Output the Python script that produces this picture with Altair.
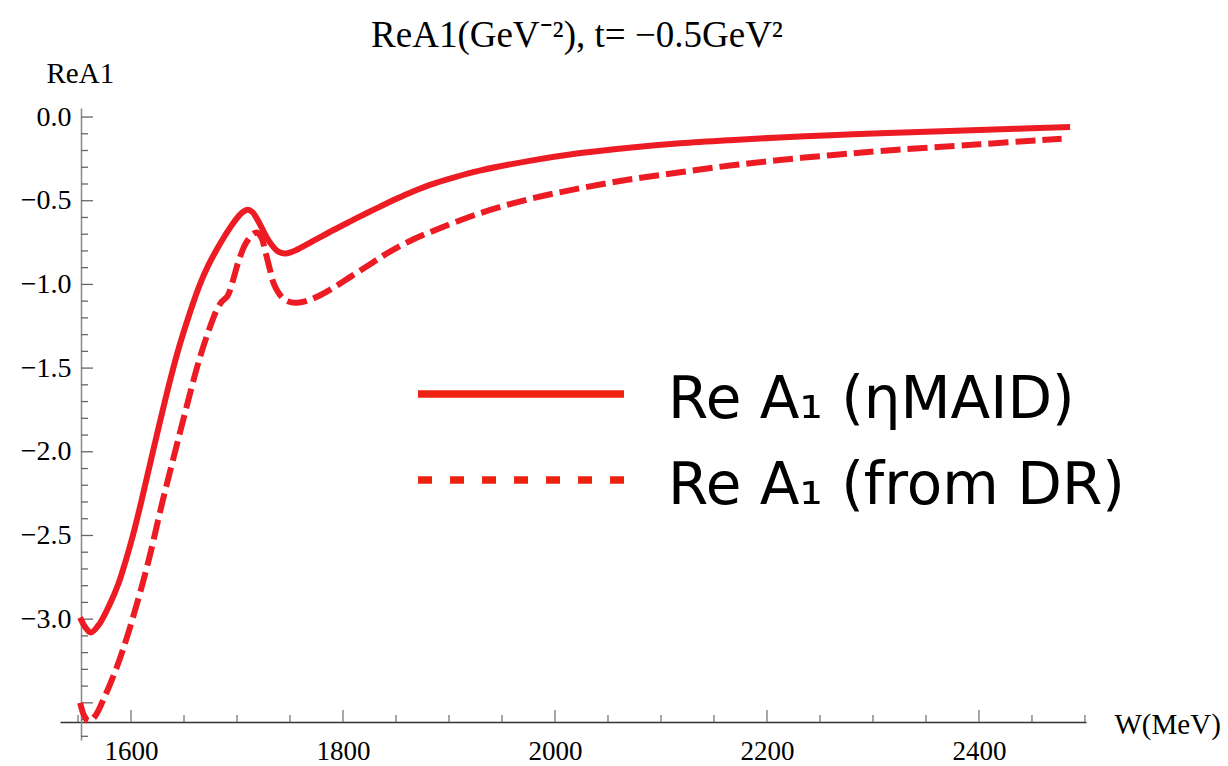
import altair as alt
import pandas as pd

# ---------------- data ----------------
SERIES = ["Re A\u2081 (\u03b7MAID)", "Re A\u2081 (from DR)"]

W_MAID = [1552, 1557, 1562, 1570, 1580, 1588, 1596, 1603, 1610, 1621, 1637, 1646,
          1656, 1665, 1673, 1681, 1689, 1696, 1703, 1709, 1714, 1719, 1724, 1730,
          1738, 1745, 1752, 1759, 1775, 1791, 1807, 1823, 1835, 1851, 1866, 1882,
          1905, 1929, 1976, 2024, 2070, 2118, 2165, 2212, 2260, 2307, 2400, 2486]
RE_MAID = [-2.99, -3.05, -3.08, -3.03, -2.91, -2.79, -2.63, -2.47, -2.29, -1.99, -1.57, -1.36,
           -1.16, -1.00, -0.885, -0.79, -0.705, -0.637, -0.582, -0.555, -0.565, -0.61, -0.67, -0.74,
           -0.80, -0.815, -0.805, -0.785, -0.73, -0.675, -0.623, -0.572, -0.535, -0.487, -0.445, -0.405,
           -0.36, -0.32, -0.262, -0.215, -0.183, -0.157, -0.138, -0.122, -0.109, -0.097, -0.077, -0.060]

W_DR = [1552, 1556, 1560, 1566, 1574, 1587, 1599, 1615, 1630, 1646, 1663, 1672,
        1681, 1686, 1691, 1696, 1701, 1707, 1712, 1716, 1719, 1723, 1727, 1731,
        1735, 1743, 1750, 1757, 1765, 1775, 1791, 1807, 1823, 1838, 1851, 1866,
        1882, 1929, 1976, 2024, 2070, 2118, 2165, 2212, 2260, 2307, 2400, 2478]
RE_DR = [-3.50, -3.58, -3.61, -3.58, -3.48, -3.28, -3.05, -2.69, -2.29, -1.89, -1.48, -1.30,
         -1.15, -1.10, -1.07, -0.98, -0.87, -0.77, -0.72, -0.695, -0.69, -0.72, -0.81, -0.91,
         -1.00, -1.08, -1.105, -1.11, -1.10, -1.075, -1.02, -0.955, -0.89, -0.828, -0.78, -0.732,
         -0.688, -0.575, -0.49, -0.425, -0.373, -0.33, -0.29, -0.257, -0.228, -0.203, -0.163, -0.13]

X_MAJOR = [1600, 1800, 2000, 2200, 2400]
X_MINOR = [1550, 1650, 1700, 1750, 1850, 1900, 1950, 2050, 2100, 2150,
           2250, 2300, 2350, 2450, 2500]
Y_LABELS = [0.0, -0.5, -1.0, -1.5, -2.0, -2.5, -3.0]
Y_MAJOR = Y_LABELS + [-3.5]
Y_MINOR = [round(-0.1 * i, 1) for i in range(38) if i % 5 != 0]

TITLE = "ReA1(GeV\u207b\u00b2), t= \u22120.5GeV\u00b2"
X_TITLE = "W(MeV)"
Y_TITLE = "ReA1"

# ---------------- styling ----------------
RED = "#ED1C24"
LEG_RED = "#EF2211"
SERIF = "Liberation Serif"
SANS = "DejaVu Sans"

XSCALE = alt.Scale(domain=[1533, 2501], nice=False, zero=False)
YSCALE = alt.Scale(domain=[-3.722, 0.054], nice=False, zero=False)

XAXIS = alt.Axis(values=X_MAJOR, format="d", ticks=False, tickSize=0, grid=False,
                 offset=-18, domainColor="#333333", domainWidth=1.5,
                 labelFont=SERIF, labelFontSize=27, labelPadding=37,
                 labelBaseline="alphabetic", labelColor="black",
                 labelFlush=False, labelOverlap=False,
                 title=X_TITLE, titleX=1054, titleY=11, titleAlign="left",
                 titleBaseline="alphabetic", titleFont=SERIF, titleFontSize=29,
                 titleFontWeight="normal", titleColor="black")
YAXIS = alt.Axis(values=Y_LABELS, format=".1f", ticks=False, tickSize=0, grid=False,
                 offset=-21, domainColor="#888888", domainWidth=1.5,
                 labelFont=SERIF, labelFontSize=28, labelPadding=10, labelColor="black",
                 labelFlush=False, labelOverlap=False,
                 title=Y_TITLE, titleAngle=0, titleX=-35, titleY=-26, titleAlign="left",
                 titleBaseline="alphabetic", titleFont=SERIF, titleFontSize=29,
                 titleFontWeight="normal", titleColor="black")


def xq(field):
    return alt.X(field, type="quantitative", scale=XSCALE, axis=XAXIS)


def yq(field):
    return alt.Y(field, type="quantitative", scale=YSCALE, axis=YAXIS)


maid = pd.DataFrame({"W": W_MAID, "ReA1": RE_MAID, "series": SERIES[0]})
dr = pd.DataFrame({"W": W_DR, "ReA1": RE_DR, "series": SERIES[1]})

solid = alt.Chart(maid).mark_line(strokeWidth=6, interpolate="catmull-rom", color=RED).encode(
    x=xq("W"), y=yq("ReA1"))
dashed = alt.Chart(dr).mark_line(strokeWidth=6, interpolate="catmull-rom", color=RED,
                                 strokeDash=[20, 7]).encode(x=xq("W"), y=yq("ReA1"))

# axis ticks (Mathematica-style, pointing into the plot)
ymaj = alt.Chart(pd.DataFrame({"v": Y_MAJOR})).mark_rule(color="#666666", strokeWidth=1.3).encode(
    y=yq("v"), x=alt.value(21), x2=alt.value(33))
ymin = alt.Chart(pd.DataFrame({"v": Y_MINOR})).mark_rule(color="#666666", strokeWidth=1.3).encode(
    y=yq("v"), x=alt.value(21), x2=alt.value(28))
xmaj = alt.Chart(pd.DataFrame({"w": X_MAJOR})).mark_rule(color="#777777", strokeWidth=1.3).encode(
    x=xq("w"), y=alt.value(614), y2=alt.value(602))
xmin = alt.Chart(pd.DataFrame({"w": X_MINOR})).mark_rule(color="#777777", strokeWidth=1.3).encode(
    x=xq("w"), y=alt.value(614), y2=alt.value(607))

# title
title = alt.Chart(pd.DataFrame({"t": [TITLE]})).mark_text(
    font=SERIF, fontSize=37, align="center", baseline="alphabetic", color="black").encode(
    text="t:N", x=alt.value(517), y=alt.value(-61))

# legend (drawn inside the plot, as in the reference)
leg = pd.DataFrame({"label": SERIES})
leg_solid = alt.Chart(leg).transform_filter(alt.datum.label == SERIES[0]).mark_rule(
    color=LEG_RED, strokeWidth=7.5).encode(x=alt.value(358), x2=alt.value(564), y=alt.value(286))
leg_dash = alt.Chart(leg).transform_filter(alt.datum.label == SERIES[1]).mark_rule(
    color=LEG_RED, strokeWidth=7.5, strokeDash=[14, 18]).encode(
    x=alt.value(358), x2=alt.value(564), y=alt.value(372))
leg_t1 = alt.Chart(leg).transform_filter(alt.datum.label == SERIES[0]).mark_text(
    font=SANS, fontSize=58, align="left", baseline="alphabetic", color="black").encode(
    text="label:N", x=alt.value(608), y=alt.value(310))
leg_t2 = alt.Chart(leg).transform_filter(alt.datum.label == SERIES[1]).mark_text(
    font=SANS, fontSize=58, align="left", baseline="alphabetic", color="black").encode(
    text="label:N", x=alt.value(608), y=alt.value(396))

chart = alt.layer(
    ymin, ymaj, xmin, xmaj, solid, dashed, title, leg_solid, leg_dash, leg_t1, leg_t2
).properties(
    width=1026, height=632,
    autosize=alt.AutoSizeParams(type="none"),
    padding={"left": 60, "top": 108, "right": 142, "bottom": 26},
    background="white",
).configure_view(stroke=None)

chart.save("out.html", embed_options={"renderer": "svg", "actions": False})
